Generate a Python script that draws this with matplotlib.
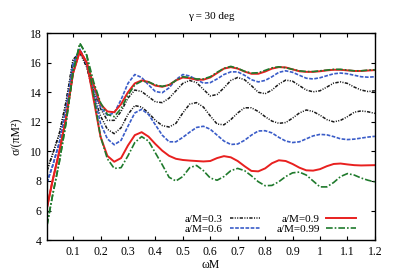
import numpy as np
import matplotlib
matplotlib.use("Agg")
import matplotlib.pyplot as plt

plt.rcParams['font.family'] = ['Liberation Serif', 'DejaVu Serif']

# frequency grid (omega M)
omega = [0.005, 0.025, 0.05, 0.075, 0.1, 0.125, 0.15, 0.175, 0.2,
         0.225, 0.25, 0.275, 0.3, 0.325, 0.35, 0.375, 0.4, 0.425, 0.45,
         0.475, 0.5, 0.525, 0.55, 0.575, 0.6, 0.625, 0.65, 0.675, 0.7,
         0.725, 0.75, 0.775, 0.8, 0.825, 0.85, 0.875, 0.9, 0.925, 0.95,
         0.975, 1.0, 1.025, 1.05, 1.075, 1.1, 1.125, 1.15, 1.175, 1.2]

# shared low-frequency part for each a/M (omega 0.005 .. 0.15)
start_03 = [8.7, 9.8, 11.2, 13.4, 16.2, 16.7, 15.7]
start_06 = [7.9, 9.0, 10.6, 12.9, 15.9, 16.9, 15.9]
start_09 = [6.2, 8.0, 10.0, 12.3, 15.3, 16.8, 16.0]
start_099 = [5.0, 7.0, 9.3, 12.0, 15.4, 17.3, 16.5]

# two branches per a/M, omega 0.175 .. 1.2
up_03 = [14.1, 12.9, 12.1, 12.1, 12.7, 13.6, 14.15, 14.05, 13.7, 13.35,
         13.3, 13.6, 14.1, 14.6, 14.8, 14.65, 14.2, 13.75, 13.85, 14.3,
         14.8, 15.0, 14.85, 14.45, 14.0, 13.9, 14.15, 14.55, 14.82, 14.75,
         14.45, 14.15, 14.03, 14.1, 14.35, 14.62, 14.7, 14.6, 14.35, 14.15,
         14.05, 14.1]
lo_03 = [13.8, 12.4, 11.5, 11.2, 11.6, 12.5, 13.1, 13.0, 12.6, 12.1,
         11.75, 11.65, 11.9, 12.6, 13.2, 13.3, 13.0, 12.4, 11.85, 11.8,
         12.15, 12.6, 12.95, 12.95, 12.7, 12.35, 12.05, 11.9, 11.95, 12.25,
         12.6, 12.8, 12.7, 12.45, 12.15, 12.0, 12.1, 12.35, 12.65, 12.74,
         12.68, 12.57]
up_06 = [14.3, 13.0, 12.45, 12.6, 13.5, 14.6, 15.2, 15.0, 14.5, 14.05,
         13.97, 14.3, 14.85, 15.2, 15.1, 14.85, 14.62, 14.65, 14.9, 15.2,
         15.38, 15.38, 15.15, 14.85, 14.7, 14.8, 15.05, 15.35, 15.45, 15.35,
         15.15, 14.95, 14.9, 14.98, 15.12, 15.25, 15.3, 15.25, 15.15, 15.05,
         15.02, 15.05]
lo_06 = [13.9, 11.9, 10.85, 10.45, 10.75, 11.7, 12.6, 12.85, 12.5, 11.8,
         11.1, 10.65, 10.65, 10.95, 11.3, 11.62, 11.7, 11.5, 11.1, 10.7,
         10.47, 10.5, 10.75, 11.1, 11.38, 11.4, 11.25, 10.95, 10.7, 10.6,
         10.65, 10.85, 11.05, 11.15, 11.12, 11.0, 10.85, 10.8, 10.83, 10.9,
         10.97, 11.02]
up_09 = [14.5, 13.2, 12.7, 12.65, 13.2, 14.0, 14.6, 14.8, 14.7, 14.45,
         14.37, 14.5, 14.8, 15.0, 14.95, 14.85, 14.85, 15.0, 15.3, 15.6,
         15.7, 15.6, 15.4, 15.25, 15.25, 15.4, 15.6, 15.7, 15.68, 15.55,
         15.42, 15.38, 15.38, 15.42, 15.48, 15.52, 15.52, 15.48, 15.44, 15.44,
         15.47, 15.5]
lo_09 = [13.5, 11.0, 9.7, 9.3, 9.55, 10.4, 11.1, 11.3, 11.0, 10.5,
         10.05, 9.7, 9.5, 9.42, 9.38, 9.35, 9.32, 9.35, 9.55, 9.68,
         9.6, 9.35, 9.0, 8.68, 8.65, 8.85, 9.2, 9.4, 9.35, 9.15,
         8.9, 8.72, 8.7, 8.8, 9.0, 9.15, 9.18, 9.12, 9.07, 9.05,
         9.06, 9.07]
up_099 = [14.7, 13.3, 12.5, 12.35, 12.9, 13.8, 14.5, 14.75, 14.7, 14.5,
          14.4, 14.5, 14.8, 15.05, 15.0, 14.9, 14.9, 15.05, 15.35, 15.62,
          15.75, 15.62, 15.42, 15.3, 15.32, 15.48, 15.65, 15.72, 15.66, 15.55,
          15.45, 15.4, 15.4, 15.45, 15.5, 15.55, 15.55, 15.5, 15.45, 15.45,
          15.5, 15.52]
lo_099 = [13.8, 11.0, 9.5, 8.85, 8.9, 9.7, 10.6, 11.0, 10.7, 9.9,
          9.1, 8.25, 8.0, 8.3, 8.9, 9.05, 8.7, 8.2, 8.05, 8.3,
          8.7, 8.85, 8.7, 8.35, 7.95, 7.68, 7.7, 7.95, 8.3, 8.55,
          8.6, 8.4, 8.0, 7.6, 7.6, 7.9, 8.3, 8.5, 8.4, 8.2,
          8.05, 7.94]

labels = ['a/M=0.3', 'a/M=0.6', 'a/M=0.9', 'a/M=0.99']
colors = ['#1a1a1a', '#3a5cc8', '#e8201f', '#1f7a2c']
styles = [(0, (2.2, 0.9, 0.7, 0.9, 0.7, 0.9)), (0, (2.2, 0.9)), '-',
          (0, (4, 1.2, 1, 1.2))]
widths = [1.1, 1.2, 1.4, 1.2]
starts = [start_03, start_06, start_09, start_099]
uppers = [up_03, up_06, up_09, up_099]
lowers = [lo_03, lo_06, lo_09, lo_099]

fig = plt.figure(figsize=(3.95, 2.76), dpi=100)
ax = fig.add_axes([0.119, 0.13, 0.83, 0.75])

for i in range(4):
    yu = starts[i] + uppers[i]
    yl = starts[i] + lowers[i]
    ax.plot(omega, yu, color=colors[i], ls=styles[i], lw=widths[i], label=labels[i])
    ax.plot(omega, yl, color=colors[i], ls=styles[i], lw=widths[i])

ax.set_xlim(0.005, 1.2)
ax.set_ylim(4, 18)
ax.set_xticks([0.1, 0.2, 0.3, 0.4, 0.5, 0.6, 0.7, 0.8, 0.9, 1.0, 1.1, 1.2])
ax.set_xticklabels(['0.1', '0.2', '0.3', '0.4', '0.5', '0.6', '0.7', '0.8',
                    '0.9', '1', '1.1', '1.2'])
ax.set_yticks([4, 6, 8, 10, 12, 14, 16, 18])
ax.tick_params(direction='in', top=True, right=True, labelsize=8.5,
               length=3, width=0.8, pad=4)
for s in ax.spines.values():
    s.set_linewidth(1.0)

ax.set_xlabel('ωM', fontsize=8.5, labelpad=1)
ax.set_ylabel('σ/(πM²)', fontsize=8.5, labelpad=5)
ax.set_title('γ = 30 deg', fontsize=8, pad=10)

leg = ax.legend(ncol=2, loc='lower right', bbox_to_anchor=(0.962, 0.0),
                frameon=False, fontsize=8, markerfirst=False,
                handlelength=2.7, columnspacing=1.5, labelspacing=0.0,
                borderaxespad=0.15, handletextpad=0.6)

plt.savefig('out.png', dpi=100)
